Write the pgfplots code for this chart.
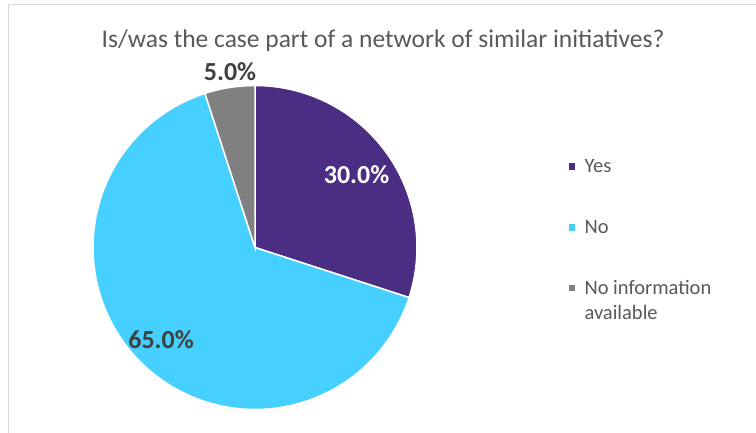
\documentclass[border=0pt]{standalone}
\usepackage{fontspec}
\setmainfont{Carlito}
\usepackage{pgfplots}
\pgfplotsset{compat=1.18}
\definecolor{cYes}{HTML}{4B2E83}
\definecolor{cNo}{HTML}{45D0FF}
\definecolor{cNA}{HTML}{808080}
\definecolor{txt}{HTML}{595959}
\definecolor{lbl}{HTML}{404040}
\definecolor{frame}{HTML}{D9D9D9}
% data (percent)
\def\vYes{30}
\def\vNo{65}
\def\vNA{5}
\begin{document}
\begin{tikzpicture}
\useasboundingbox (0,0) rectangle (756bp,433bp);
\fill[white] (0,0) rectangle (756bp,433bp);
\draw[frame, line width=1.5bp] (8.5bp,0) -- (8.5bp,428.5bp) -- (756bp,428.5bp);
\node[txt, font=\fontsize{25.5bp}{30bp}\selectfont, anchor=base, inner sep=0pt] at (383bp,385bp) {Is/was the case part of a network of similar initiatives?};
\pgfmathsetmacro\aA{90}
\pgfmathsetmacro\aB{\aA-3.6*\vYes}
\pgfmathsetmacro\aC{\aB-3.6*\vNo}
\pgfmathsetmacro\aD{\aC-3.6*\vNA}
\begin{axis}[
  hide axis, x=162bp, y=162bp,
  xmin=-1, xmax=1, ymin=-1, ymax=1,
  anchor=origin, at={(255bp,185.5bp)},
  clip=false,
  legend image code/.code={\fill[#1] (0bp,2bp) rectangle (8bp,10bp); \path (0bp,0bp) -- (16bp,0bp);},
  legend style={draw=none, fill=none, at={(axis cs:1.926,0.57)}, anchor=north west,
    inner sep=0pt, outer sep=0pt, row sep=41.8bp,
    font=\fontsize{20.5bp}{25bp}\selectfont, text=txt,
    nodes={inner sep=0pt, outer sep=0pt}},
  legend cell align=left,
  legend style={cells={anchor=base west}},
]
\addplot[fill=cYes, draw=white, line width=1.5bp, domain=\aB:\aA, samples=61, variable=\t]
  ({cos(\t)},{sin(\t)}) -- (axis cs:0,0) -- cycle;
\addlegendentry{\strut Yes}
\addplot[fill=cNo, draw=white, line width=1.5bp, domain=\aC:\aB, samples=121, variable=\t]
  ({cos(\t)},{sin(\t)}) -- (axis cs:0,0) -- cycle;
\addlegendentry{\strut No}
\addplot[fill=cNA, draw=white, line width=1.5bp, domain=\aD:\aC, samples=11, variable=\t]
  ({cos(\t)},{sin(\t)}) -- (axis cs:0,0) -- cycle;
\addlegendentry{\begin{tabular}[t]{@{}l@{}}No information\\available\end{tabular}}
\node[white, font=\fontsize{26bp}{30bp}\selectfont\bfseries] at (axis cs:0.627,0.451) {30.0\%};
\node[lbl, font=\fontsize{26bp}{30bp}\selectfont\bfseries] at (axis cs:-0.58,-0.571) {65.0\%};
\node[lbl, font=\fontsize{26bp}{30bp}\selectfont\bfseries] at (axis cs:-0.154,1.086) {5.0\%};
\end{axis}
\end{tikzpicture}
\end{document}
